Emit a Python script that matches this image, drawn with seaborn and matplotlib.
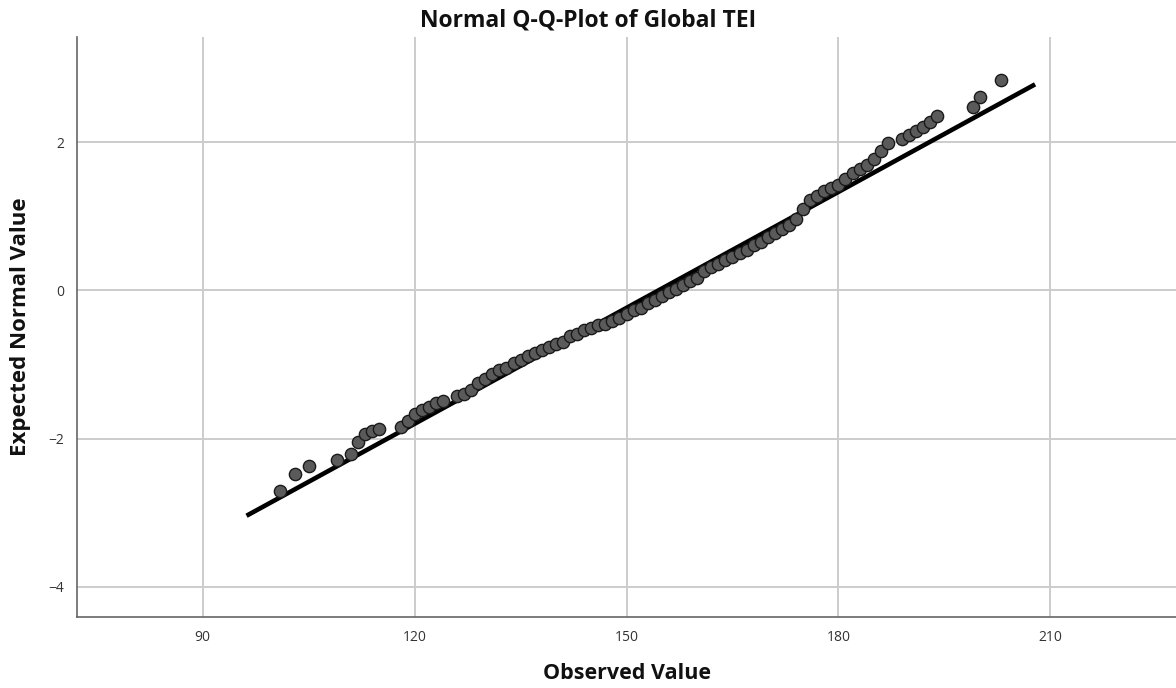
import matplotlib
matplotlib.use("Agg")
import matplotlib.pyplot as plt
import seaborn as sns
import numpy as np
import pandas as pd

# Observed values (integer Global TEI scores) and expected normal values
observed = [101, 103, 105, 109, 111, 112, 113, 114, 115, 118, 119, 120, 121, 122, 123, 124,
            126, 127, 128, 129, 130, 131, 132, 133, 134, 135, 136, 137, 138, 139, 140, 141,
            142, 143, 144, 145, 146, 147, 148, 149, 150, 151, 152, 153, 154, 155, 156, 157,
            158, 159, 160, 161, 162, 163, 164, 165, 166, 167, 168, 169, 170, 171, 172, 173,
            174, 175, 176, 177, 178, 179, 180, 181, 182, 183, 184, 185, 186, 187, 189, 190,
            191, 192, 193, 194, 199, 200, 203]
expected = [-2.71, -2.48, -2.37, -2.29, -2.21, -2.05, -1.94, -1.90, -1.87, -1.84, -1.76, -1.67,
            -1.61, -1.57, -1.52, -1.49, -1.43, -1.40, -1.34, -1.25, -1.19, -1.13, -1.08, -1.04,
            -0.98, -0.94, -0.89, -0.85, -0.80, -0.76, -0.72, -0.69, -0.62, -0.585, -0.54, -0.50,
            -0.47, -0.45, -0.41, -0.37, -0.32, -0.27, -0.23, -0.17, -0.13, -0.08, -0.02, 0.02,
            0.08, 0.13, 0.17, 0.26, 0.315, 0.36, 0.41, 0.45, 0.50, 0.55, 0.61, 0.66, 0.72, 0.78,
            0.83, 0.89, 0.97, 1.10, 1.22, 1.28, 1.34, 1.38, 1.42, 1.50, 1.585, 1.645, 1.70, 1.78,
            1.88, 1.99, 2.04, 2.095, 2.15, 2.21, 2.27, 2.36, 2.48, 2.61, 2.84]

# Reference line parameters (normal fit)
fit_mean = 154.5
fit_sd = 19.17
line_x = [96.2, 207.85]

x_ticks = [90, 120, 150, 180, 210]
y_ticks = [-4, -2, 0, 2]

title = "Normal Q-Q-Plot of Global TEI"
xlabel = "Observed Value"
ylabel = "Expected Normal Value"

sns.set_style("white")
plt.rcParams['font.family'] = ['Open Sans', 'DejaVu Sans']

fig = plt.figure(figsize=(11.76, 6.88), dpi=100)
ax = fig.add_axes([0.0655, 0.103, 0.9345, 0.843])

pts = pd.DataFrame({"observed": observed, "expected": expected})
line_df = pd.DataFrame({"x": line_x,
                        "y": [(v - fit_mean) / fit_sd for v in line_x]})

sns.lineplot(data=line_df, x="x", y="y", ax=ax, color="black", linewidth=3.3,
             zorder=3, solid_capstyle="butt")
sns.scatterplot(data=pts, x="observed", y="expected", ax=ax, s=78,
                color="#5a5a5a", edgecolor="#1a1a1a", linewidth=1.0, zorder=4)

ax.set_xlim(72.2, 227.8)
ax.set_ylim(-4.41, 3.42)
ax.set_xticks(x_ticks)
ax.set_yticks(y_ticks)
ax.set_xticklabels([str(t) for t in x_ticks])
ax.set_yticklabels(["\u2212" + str(abs(t)) if t < 0 else str(t) for t in y_ticks])

ax.grid(True, color="#cccccc", linewidth=1.4, zorder=0)
ax.set_axisbelow(True)
for s in ["top", "right"]:
    ax.spines[s].set_visible(False)
for s in ["left", "bottom"]:
    ax.spines[s].set_color("#666666")
    ax.spines[s].set_linewidth(1.2)

ax.tick_params(axis="y", length=0, labelsize=10, colors="#333333", pad=9)
ax.tick_params(axis="x", length=0, labelsize=10, colors="#333333", pad=9)

ax.set_xlabel(xlabel, fontsize=15.5, fontweight="bold", color="#111111", labelpad=13)
ax.set_ylabel(ylabel, fontsize=16, fontweight="bold", color="#111111", labelpad=13)
fig.text(0.5, 1 - 20 / 688, title, fontsize=16.5, fontweight="bold", color="#111111",
         ha="center", va="center")

fig.savefig("out.png", dpi=100)
